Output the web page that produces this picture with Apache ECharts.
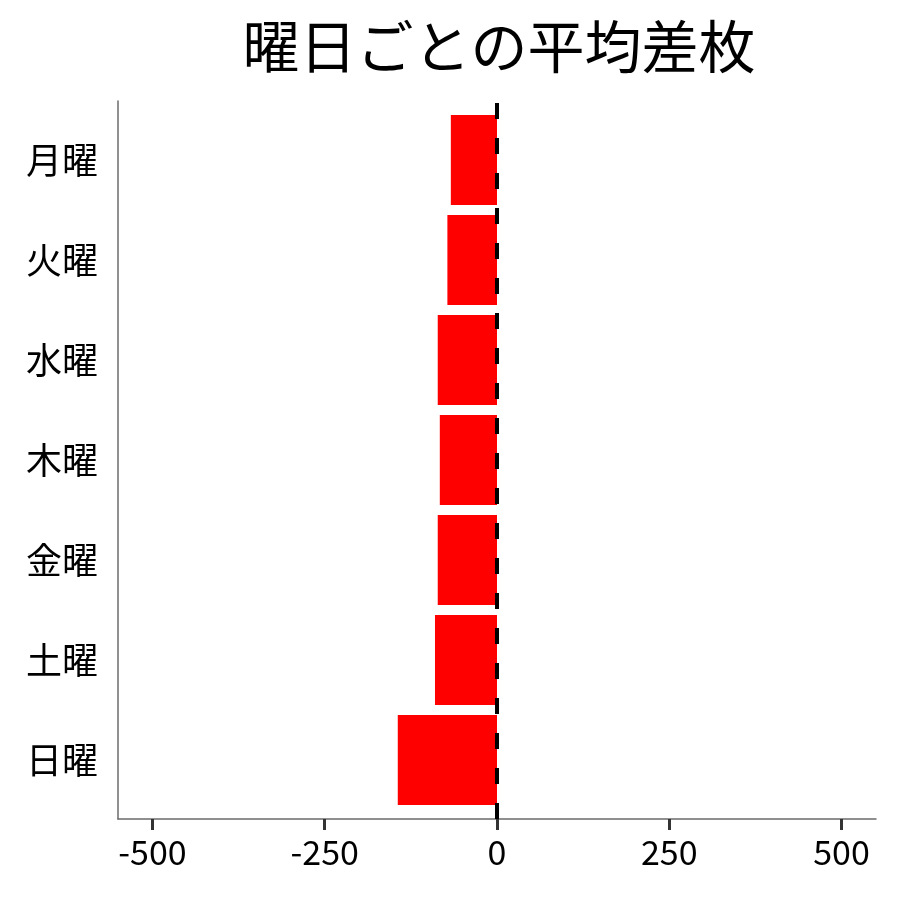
<!DOCTYPE html>
<html>
<head>
<meta charset="utf-8">
<script src="https://cdn.jsdelivr.net/npm/echarts@6/dist/echarts.min.js"></script>
<style>
  html, body { margin: 0; padding: 0; background: #fff; }
  #main { width: 900px; height: 900px; }
</style>
</head>
<body>
<div id="main"></div>
<script>
// 曜日ごとの平均差枚
var days = ['月曜', '火曜', '水曜', '木曜', '金曜', '土曜', '日曜'];
var avgDiff = [-67, -72, -86, -83, -86, -90, -144];
var xTicks = [-500, -250, 0, 250, 500];

var myChart = echarts.init(document.getElementById('main'));
var fontJP = '"Noto Sans CJK JP", "Noto Sans", sans-serif';

var option = {
    backgroundColor: '#fff',
    animation: false,
    title: {
        text: '曜日ごとの平均差枚',
        left: 494,
        textAlign: 'center',
        top: 13,
        textStyle: { fontFamily: fontJP, fontSize: 57, fontWeight: 'normal', color: '#000' }
    },
    grid: [
        // data area
        { left: 118, right: 24, top: 110, bottom: 90 },
        // outer frame (ggplot-like expansion of the panel)
        { left: 118, right: 24, top: 101, bottom: 81 }
    ],
    xAxis: [
        {
            gridIndex: 0,
            type: 'value',
            min: -550,
            max: 550,
            offset: 9,
            splitLine: { show: false },
            axisLine: { show: true, lineStyle: { color: '#6b6b6b', width: 1.5 } },
            axisTick: { show: true, length: 11, lineStyle: { color: '#333', width: 3 }, customValues: xTicks },
            axisLabel: {
                margin: 16,
                fontFamily: fontJP,
                fontSize: 34,
                color: '#000',
                customValues: xTicks
            }
        },
        {
            gridIndex: 1,
            type: 'value',
            min: -550,
            max: 550,
            show: false
        }
    ],
    yAxis: [
        {
            gridIndex: 0,
            type: 'category',
            data: days,
            inverse: true,
            axisLine: { show: false },
            axisTick: { show: true, alignWithLabel: true, length: 10, lineStyle: { color: '#333', width: 3 } },
            axisLabel: { margin: 20, fontFamily: fontJP, fontSize: 36, color: '#000' }
        },
        {
            gridIndex: 1,
            type: 'value',
            min: 0,
            max: 1,
            axisLine: { show: true, onZero: false, lineStyle: { color: '#6b6b6b', width: 1.5 } },
            axisTick: { show: false },
            axisLabel: { show: false },
            splitLine: { show: false }
        }
    ],
    series: [{
        name: '平均差枚',
        type: 'bar',
        xAxisIndex: 0,
        yAxisIndex: 0,
        data: avgDiff,
        barCategoryGap: '10%',
        itemStyle: { color: '#ff0000' }
    }, {
        // zero reference line over the full panel height
        name: 'zero',
        type: 'line',
        xAxisIndex: 1,
        yAxisIndex: 1,
        data: [],
        z: 10,
        markLine: {
            silent: true,
            symbol: 'none',
            label: { show: false },
            lineStyle: { color: '#000', type: [16, 19], width: 4 },
            data: [{ xAxis: 0 }]
        }
    }]
};

myChart.setOption(option);
</script>
</body>
</html>
